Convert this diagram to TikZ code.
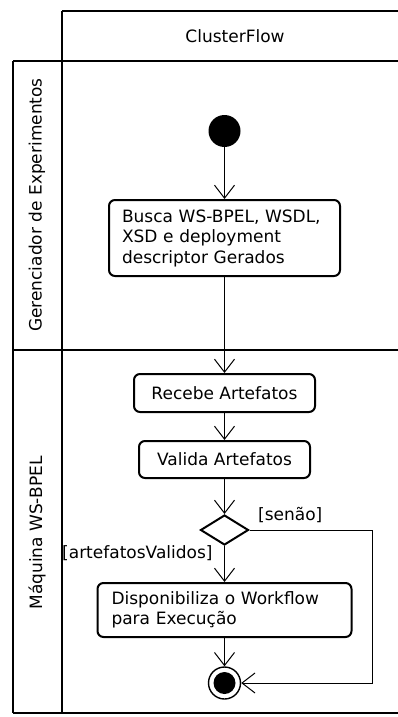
\documentclass[tikz,border=0pt]{standalone}
\usepackage{fontspec}
\setmainfont{DejaVu Sans}
\usetikzlibrary{arrows.meta,shapes.geometric}
\begin{document}
\begin{tikzpicture}[x=1pt,y=-1pt,
  lane/.style={line width=2.8pt},
  act/.style={draw,line width=2pt,rounded corners=6pt,font=\fontsize{17}{20.5}\selectfont,inner sep=0pt},
  flow/.style={line width=1pt,-{Straight Barb[length=13pt,width=20pt,line width=1pt]}},
  lbl/.style={font=\fontsize{17}{20.5}\selectfont,inner sep=0pt}]
\useasboundingbox (0,0) rectangle (398,717);
% swimlane frame
\draw[lane] (62,11) -- (398,11);
\draw[lane] (62,11) -- (62,713);
\draw[lane] (13,61) -- (398,61);
\draw[lane] (13,61) -- (13,713);
\draw[lane] (13,350) -- (398,350);
\draw[lane] (13,713) -- (398,713);
\node[lbl] (hdr) at (235,36) {ClusterFlow};
\node[lbl,rotate=90] (lane1) at (37,205) {Gerenciador de Experimentos};
\node[lbl,rotate=90] (lane2) at (37,533) {Máquina WS-BPEL};
% nodes
\node[circle,fill=black,minimum size=32pt,inner sep=0pt] (start) at (224.5,131) {};
\node[act,minimum width=231pt,minimum height=76pt,text width=205pt,align=left] (busca) at (224.5,238) {Busca WS-BPEL, WSDL,\\XSD e deployment\\descriptor Gerados};
\node[act,minimum width=181pt,minimum height=38pt] (recebe) at (224.5,393) {Recebe Artefatos};
\node[act,minimum width=171pt,minimum height=37pt] (valida) at (224.5,459.5) {Valida Artefatos};
\node[diamond,draw,line width=2pt,minimum width=48pt,minimum height=30pt,inner sep=0pt] (dec) at (224.5,530) {};
\node[act,minimum width=254pt,minimum height=54pt,text width=226pt,align=left] (disp) at (224.5,610) {Disponibiliza o Workflow\\para Execução};
\node[circle,draw,line width=1.4pt,minimum size=32pt,inner sep=0pt] (end) at (224.5,683) {};
\fill (end.center) circle (11pt);
\coordinate (c1) at (372,530);
\coordinate (c2) at (372,683);
% flows
\draw[flow] (start) -- (busca);
\draw[flow] (busca) -- (recebe);
\draw[flow] (recebe) -- (valida);
\draw[flow] (valida) -- (dec.north);
\draw[flow] (dec.south) -- (disp);
\draw[flow] (disp) -- (end);
\draw[flow] (dec.east) -- (c1) -- (c2) -- (end.east);
\node[lbl,anchor=west] (senao) at (258,515) {[senão]};
\node[lbl,anchor=west] (valid) at (62,553) {[artefatosValidos]};
\end{tikzpicture}
\end{document}
